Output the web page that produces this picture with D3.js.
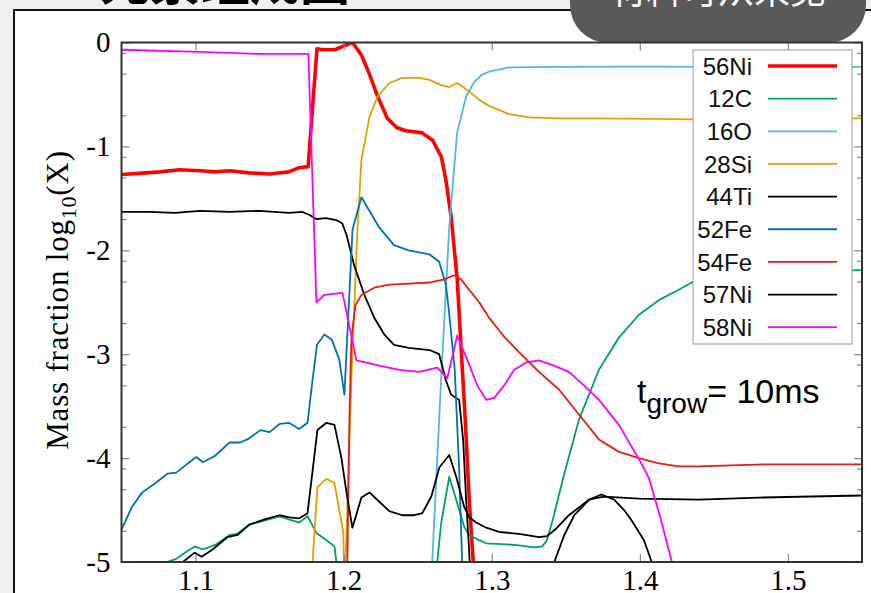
<!DOCTYPE html>
<meta charset="utf-8">
<style>
body { margin: 0; background: #f0f0f0; overflow: hidden; }
</style>
<body>
<script src="https://cdn.jsdelivr.net/npm/d3@7/dist/d3.min.js"></script>
<script>

var width = 871,
    height = 593;

// tick values
var xTicks = [1.1, 1.2, 1.3, 1.4, 1.5],
    yTicks = [0, -1, -2, -3, -4, -5],
    yMinor = [-0.1, -0.3, -0.7, -1.1, -1.3, -1.7, -2.1, -2.3, -2.7, -3.1, -3.3, -3.7, -4.1, -4.3, -4.7];

var species = ["56Ni", "12C", "16O", "28Si", "44Ti", "52Fe", "54Fe", "57Ni", "58Ni"];

// [mass coordinate, log10 X]
var ni56 = [[1.05,-1.27],[1.062,-1.26],[1.076,-1.245],[1.089,-1.225],[1.103,-1.235],[1.113,-1.245],[1.123,-1.235],[1.136,-1.255],[1.150,-1.265],[1.163,-1.245],[1.170,-1.205],[1.176,-1.195],[1.182,-0.06],[1.186,-0.07],[1.194,-0.07],[1.199,-0.04],[1.206,0.0],[1.212,-0.12],[1.217,-0.29],[1.223,-0.52],[1.2295,-0.73],[1.236,-0.82],[1.242,-0.85],[1.253,-0.87],[1.260,-0.94],[1.266,-1.10],[1.269,-1.32],[1.2726,-1.68],[1.2767,-2.28],[1.2794,-2.96],[1.2821,-3.63],[1.2848,-4.40],[1.2875,-5.0],[1.289,-5.3]];
var c12 = [[1.076,-5.3],[1.0805,-5.0],[1.087,-4.97],[1.094,-4.90],[1.0994,-4.85],[1.105,-4.88],[1.114,-4.83],[1.123,-4.74],[1.128,-4.73],[1.136,-4.64],[1.147,-4.60],[1.157,-4.56],[1.163,-4.59],[1.170,-4.62],[1.1756,-4.56],[1.1816,-4.72],[1.1884,-4.79],[1.1938,-4.85],[1.1951,-5.0],[1.1965,-5.3],[1.2619,-5.3],[1.2632,-5.0],[1.2659,-4.62],[1.2713,-4.18],[1.276,-4.40],[1.2814,-4.66],[1.2848,-4.74],[1.2915,-4.79],[1.2963,-4.82],[1.3097,-4.83],[1.3184,-4.84],[1.3286,-4.86],[1.334,-4.85],[1.3373,-4.79],[1.342,-4.55],[1.3488,-4.16],[1.3589,-3.63],[1.3724,-3.15],[1.3859,-2.84],[1.3994,-2.62],[1.4128,-2.48],[1.4263,-2.38],[1.435,-2.31],[1.455,-2.26],[1.4803,-2.22],[1.515,-2.20],[1.55,-2.19]];
var o16 = [[1.2585,-5.3],[1.2598,-5.0],[1.2658,-3.25],[1.2712,-1.80],[1.2766,-0.87],[1.2827,-0.52],[1.2881,-0.38],[1.2935,-0.31],[1.2982,-0.28],[1.3117,-0.24],[1.345,-0.234],[1.40,-0.232],[1.45,-0.234],[1.55,-0.234]];
var si28 = [[1.1783,-5.3],[1.179,-5.0],[1.1823,-4.28],[1.1884,-4.20],[1.1938,-4.24],[1.1998,-4.72],[1.2006,-5.3],[1.2052,-3.25],[1.2093,-1.80],[1.212,-1.13],[1.2174,-0.72],[1.2228,-0.52],[1.2309,-0.39],[1.2396,-0.34],[1.251,-0.34],[1.2578,-0.36],[1.2659,-0.41],[1.2713,-0.43],[1.2766,-0.39],[1.2847,-0.47],[1.2915,-0.55],[1.2982,-0.61],[1.3117,-0.69],[1.3252,-0.72],[1.3454,-0.73],[1.3724,-0.73],[1.4398,-0.74],[1.55,-0.73]];
var ti44 = [[1.05,-1.63],[1.069,-1.63],[1.086,-1.64],[1.103,-1.62],[1.123,-1.63],[1.143,-1.62],[1.163,-1.64],[1.172,-1.63],[1.177,-1.66],[1.1816,-1.70],[1.188,-1.69],[1.195,-1.71],[1.199,-1.74],[1.2019,-1.85],[1.207,-2.14],[1.214,-2.43],[1.2207,-2.65],[1.2274,-2.81],[1.234,-2.91],[1.244,-2.94],[1.258,-2.96],[1.2645,-3.0],[1.269,-3.25],[1.2726,-3.39],[1.278,-3.44],[1.2807,-3.83],[1.2827,-4.40],[1.2847,-4.88],[1.286,-5.3],[1.34,-5.3],[1.3422,-5.0],[1.349,-4.74],[1.3557,-4.55],[1.3658,-4.40],[1.374,-4.35],[1.3826,-4.40],[1.3893,-4.50],[1.394,-4.59],[1.4028,-4.79],[1.408,-5.0],[1.41,-5.3]];
var fe52 = [[1.05,-4.69],[1.057,-4.47],[1.064,-4.33],[1.073,-4.24],[1.081,-4.15],[1.087,-4.14],[1.094,-4.06],[1.1005,-3.99],[1.105,-4.04],[1.113,-3.98],[1.123,-3.85],[1.13,-3.85],[1.135,-3.82],[1.144,-3.73],[1.150,-3.75],[1.157,-3.67],[1.163,-3.66],[1.170,-3.72],[1.1756,-3.66],[1.179,-3.25],[1.182,-2.91],[1.187,-2.81],[1.192,-2.86],[1.197,-3.05],[1.2005,-3.39],[1.206,-1.80],[1.212,-1.49],[1.217,-1.61],[1.224,-1.78],[1.234,-1.95],[1.244,-2.0],[1.258,-2.04],[1.2645,-2.11],[1.269,-2.33],[1.271,-2.57],[1.275,-3.15],[1.278,-4.11],[1.280,-5.0],[1.282,-5.3]];
var fe54 = [[1.2019,-5.3],[1.2025,-5.0],[1.2039,-3.63],[1.2052,-2.86],[1.2079,-2.53],[1.212,-2.43],[1.2207,-2.36],[1.2309,-2.33],[1.2443,-2.32],[1.2578,-2.31],[1.2679,-2.28],[1.2746,-2.24],[1.2793,-2.28],[1.2847,-2.38],[1.2915,-2.50],[1.2982,-2.65],[1.3083,-2.83],[1.3184,-2.98],[1.3319,-3.17],[1.3454,-3.34],[1.3589,-3.58],[1.3724,-3.82],[1.3859,-3.94],[1.3994,-4.00],[1.4128,-4.05],[1.4263,-4.08],[1.4398,-4.08],[1.4849,-4.06],[1.55,-4.06]];
var ni57 = [[1.086,-5.3],[1.0914,-5.0],[1.0994,-4.91],[1.1041,-4.95],[1.1115,-4.88],[1.1216,-4.76],[1.1283,-4.74],[1.1364,-4.64],[1.1466,-4.59],[1.1567,-4.55],[1.1634,-4.57],[1.1701,-4.58],[1.1756,-4.53],[1.1823,-3.73],[1.1884,-3.66],[1.1938,-3.68],[1.1985,-4.00],[1.2019,-4.33],[1.2059,-4.67],[1.212,-4.38],[1.2174,-4.33],[1.2241,-4.42],[1.2308,-4.51],[1.2396,-4.55],[1.2477,-4.55],[1.2531,-4.53],[1.2592,-4.37],[1.2646,-4.09],[1.2713,-3.97],[1.276,-4.18],[1.2814,-4.47],[1.2848,-4.57],[1.2895,-4.62],[1.2963,-4.67],[1.3049,-4.71],[1.3184,-4.73],[1.3319,-4.76],[1.3373,-4.75],[1.3427,-4.69],[1.3521,-4.55],[1.3656,-4.40],[1.3757,-4.37],[1.3994,-4.39],[1.4398,-4.40],[1.4803,-4.38],[1.55,-4.36]];
var ni58 = [[1.05,-0.07],[1.1028,-0.09],[1.1432,-0.11],[1.1762,-0.11],[1.1816,-2.5],[1.187,-2.43],[1.1992,-2.41],[1.2086,-3.06],[1.2241,-3.11],[1.2376,-3.15],[1.251,-3.17],[1.2632,-3.13],[1.27,-3.23],[1.2767,-2.82],[1.2848,-3.10],[1.2902,-3.30],[1.2963,-3.44],[1.3017,-3.42],[1.3084,-3.30],[1.3152,-3.15],[1.3233,-3.08],[1.3319,-3.06],[1.342,-3.11],[1.3521,-3.17],[1.3622,-3.30],[1.3724,-3.44],[1.3858,-3.68],[1.3994,-4.01],[1.4061,-4.19],[1.4142,-4.59],[1.4216,-5.0],[1.425,-5.3]];

var colors = ["#ff0000", "#009e73", "#56b4e9", "#e69f00", "#000000", "#0072b2", "#e51e10", "#000000", "#ff00ff"];
var widths = [3.6, 1.8, 1.8, 1.8, 1.8, 1.8, 1.8, 1.8, 1.8];

var series = [ni56, c12, o16, si28, ti44, fe52, fe54, ni57, ni58].map(function(v, i) {
  return {name: species[i], values: v, color: colors[i], width: widths[i]};
});

var plot = {left: 121.5, right: 862, top: 42.5, bottom: 562};

var x = d3.scaleLinear().domain([1.05, 1.55]).range([plot.left, plot.right]);
var y = d3.scaleLinear().domain([-5, 0]).range([plot.bottom, plot.top]);

var svg = d3.select("body").append("svg")
    .attr("width", width)
    .attr("height", height)
    .style("display", "block");

// slide panel behind the chart
svg.append("rect")
    .attr("x", 14).attr("y", 10)
    .attr("width", 900).attr("height", 700)
    .attr("fill", "#fff")
    .attr("stroke", "#111")
    .attr("stroke-width", 2);

svg.append("text")
    .attr("x", 100).attr("y", 0)
    .attr("font-family", "Noto Sans CJK SC")
    .attr("font-weight", "bold")
    .attr("font-size", 50)
    .attr("fill", "#000")
    .text("元素组成图");

svg.append("rect")
    .attr("x", 570).attr("y", -60)
    .attr("width", 296).attr("height", 103)
    .attr("rx", 38)
    .attr("fill", "#595959");

svg.append("text")
    .attr("x", 718).attr("y", 4)
    .attr("text-anchor", "middle")
    .attr("font-family", "Noto Sans CJK SC")
    .attr("font-size", 36)
    .attr("fill", "#fff")
    .text("材料可从来见");

svg.append("clipPath")
    .attr("id", "clip")
  .append("rect")
    .attr("x", plot.left).attr("y", plot.top)
    .attr("width", plot.right - plot.left)
    .attr("height", plot.bottom - plot.top);

var line = d3.line()
    .x(function(d) { return x(d[0]); })
    .y(function(d) { return y(d[1]); });

svg.append("g")
    .attr("clip-path", "url(#clip)")
  .selectAll("path")
  .data(series)
  .enter().append("path")
    .attr("fill", "none")
    .attr("stroke", function(d) { return d.color; })
    .attr("stroke-width", function(d) { return d.width; })
    .attr("stroke-linejoin", "round")
    .attr("d", function(d) { return line(d.values); });

// axes, ticks pointing inwards
var serif = "'Liberation Serif', 'DejaVu Serif', serif";

function styleAxis(g) {
  g.select(".domain").remove();
  g.selectAll(".tick line").attr("stroke", "#888").attr("stroke-width", 1.2);
  g.selectAll(".tick text").attr("font-family", serif).attr("font-size", 29).attr("fill", "#000");
}

svg.append("g")
    .attr("transform", "translate(0," + plot.bottom + ")")
    .call(d3.axisBottom(x).tickValues(xTicks).tickSize(-8).tickPadding(7).tickFormat(d3.format(".1f")))
    .call(styleAxis);

svg.append("g")
    .attr("transform", "translate(0," + plot.top + ")")
    .call(d3.axisTop(x).tickValues(xTicks).tickSize(-8).tickFormat(""))
    .call(styleAxis);

svg.append("g")
    .attr("transform", "translate(" + plot.left + ",0)")
    .call(d3.axisLeft(y).tickValues(yTicks).tickSize(-8).tickPadding(11)
      .tickFormat(function(d) { return d < 0 ? "-" + Math.abs(d) : "0"; }))
    .call(styleAxis);

svg.append("g")
    .attr("transform", "translate(" + plot.left + ",0)")
    .call(d3.axisLeft(y).tickValues(yMinor).tickSize(-5).tickFormat(""))
    .call(styleAxis);

svg.append("g")
    .attr("transform", "translate(" + plot.right + ",0)")
    .call(d3.axisRight(y).tickValues(yTicks).tickSize(-8).tickFormat(""))
    .call(styleAxis);

svg.append("g")
    .attr("transform", "translate(" + plot.right + ",0)")
    .call(d3.axisRight(y).tickValues(yMinor).tickSize(-5).tickFormat(""))
    .call(styleAxis);

svg.append("rect")
    .attr("x", plot.left).attr("y", plot.top)
    .attr("width", plot.right - plot.left)
    .attr("height", plot.bottom - plot.top)
    .attr("fill", "none")
    .attr("stroke", "#333")
    .attr("stroke-width", 2);

// y title
var yTitle = svg.append("text")
    .attr("transform", "translate(68,300) rotate(-90)")
    .attr("text-anchor", "middle")
    .attr("font-family", serif)
    .attr("font-size", 31)
    .attr("letter-spacing", 0.8)
    .attr("fill", "#000");
yTitle.append("tspan").text("Mass fraction log");
yTitle.append("tspan").attr("font-size", 22).attr("dy", 8).text("10");
yTitle.append("tspan").attr("dy", -8).text("(X)");

// annotation
var note = svg.append("text")
    .attr("x", 637).attr("y", 403)
    .attr("font-family", "'Liberation Sans', Arial, sans-serif")
    .attr("font-size", 34)
    .attr("fill", "#000");
note.append("tspan").text("t");
note.append("tspan").attr("font-size", 28).attr("dy", 10).text("grow");
note.append("tspan").attr("dy", -10).text("= 10ms");

// legend
var legend = svg.append("g");
legend.append("rect")
    .attr("x", 693).attr("y", 50)
    .attr("width", 159).attr("height", 294)
    .attr("fill", "#fff")
    .attr("stroke", "#999")
    .attr("stroke-width", 1);

var item = legend.selectAll("g.item")
  .data(series)
  .enter().append("g")
    .attr("class", "item")
    .attr("transform", function(d, i) { return "translate(0," + (66 + i * 32.65) + ")"; });

item.append("text")
    .attr("x", 752)
    .attr("dy", "0.36em")
    .attr("text-anchor", "end")
    .attr("font-family", "'Liberation Sans', Arial, sans-serif")
    .attr("font-size", 24)
    .attr("fill", "#111")
    .text(function(d) { return d.name; });

item.append("line")
    .attr("x1", 768).attr("x2", 837)
    .attr("stroke", function(d) { return d.color; })
    .attr("stroke-width", function(d) { return d.width; });

</script>
